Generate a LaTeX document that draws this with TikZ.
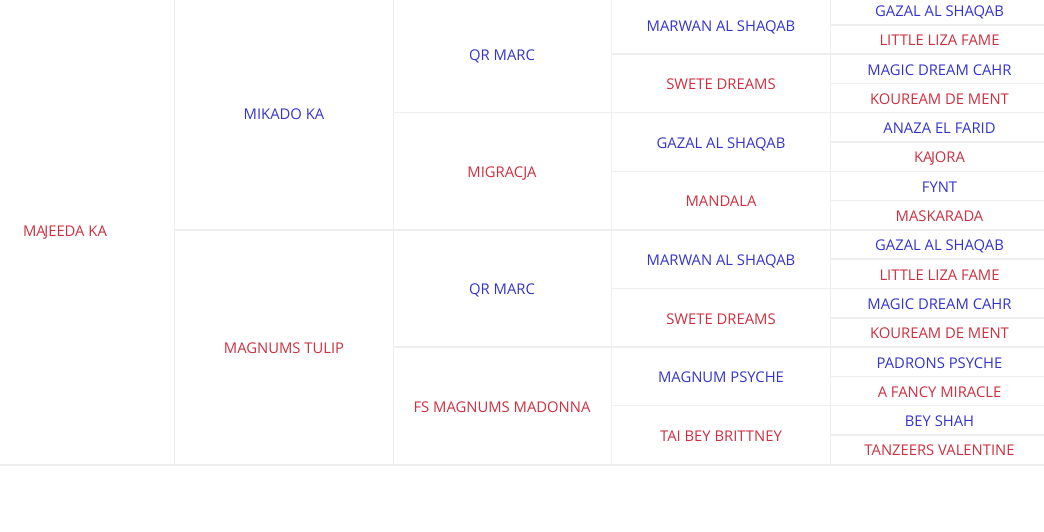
\documentclass[tikz,border=0pt]{standalone}
\usepackage{fontspec}
\setmainfont{Open Sans}
\usepackage{tikz}
\usepackage{xcolor}
\definecolor{sireblue}{HTML}{3434CC}
\definecolor{damred}{HTML}{CC3040}
\definecolor{gridgray}{HTML}{EFEFEF}

\begin{document}
\begin{tikzpicture}[x=1pt,y=-1pt,
  horse/.style={inner sep=0pt,text height=10.6pt,text depth=0pt,yshift=-1pt,font=\fontsize{14.8}{17}\selectfont},
  sire/.style={horse,text=sireblue},
  dam/.style={horse,text=damred},
  gridline/.style={gridgray,line width=1.5pt}]
\useasboundingbox (0,0) rectangle (1044,531);
% rejilla de la tabla
\foreach \x in {174.5,393,611.5,830}
  \draw[gridline,line width=1pt] (\x,-5) -- (\x,464.5);
\draw[gridline] (174.5,229.9) -- (1044,229.9);
\foreach \y in {112.7,347.1}
  \draw[gridline] (393,\y) -- (1044,\y);
\foreach \y in {54.1,171.3,288.5,405.7}
  \draw[gridline] (611.5,\y) -- (1044,\y);
\foreach \y in {24.8,83.4,142,200.6,259.2,317.8,376.4,435}
  \draw[gridline] (830,\y) -- (1044,\y);
\draw[gridline,line width=2pt] (0,464.5) -- (1044,464.5);
% generacion 1 y 2
\node[dam] (h) at (65,229.9) {MA\kern-1.5pt JEEDA KA};
\node[sire] (s) at (284,112.7) {MIKADO KA};
\node[dam] (d) at (284,347.1) {MAGNUMS TULIP};
% generacion 3
\node[sire] (ss) at (502,54.1) {QR MARC};
\node[dam] (sd) at (502,171.3) {MIGRACJA};
\node[sire] (ds) at (502,288.5) {QR MARC};
\node[dam] (dd) at (502,405.7) {FS MAGNUMS MADONNA};
% generacion 4
\node[sire] (sss) at (721,24.8) {MARWAN AL SHAQAB};
\node[dam] (ssd) at (721,83.4) {SWETE DREAMS};
\node[sire] (sds) at (721,142) {GAZAL AL SHAQAB};
\node[dam] (sdd) at (721,200.6) {MANDALA};
\node[sire] (dss) at (721,259.2) {MARWAN AL SHAQAB};
\node[dam] (dsd) at (721,317.8) {SWETE DREAMS};
\node[sire] (dds) at (721,376.4) {MAGNUM PSYCHE};
\node[dam] (ddd) at (721,435) {TAI BEY BRITTNEY};
% generacion 5
\node[sire] (ssss) at (939.5,10.15) {GAZAL AL SHAQAB};
\node[dam] (sssd) at (939.5,39.45) {LITTLE LIZA FAME};
\node[sire] (ssds) at (939.5,68.75) {MAGIC DREAM CAHR};
\node[dam] (ssdd) at (939.5,98.05) {KOUREAM DE MENT};
\node[sire] (sdss) at (939.5,127.35) {ANAZA EL FARID};
\node[dam] (sdsd) at (939.5,156.65) {KA\kern-1.5pt JORA};
\node[sire] (sdds) at (939.5,185.95) {FYNT};
\node[dam] (sddd) at (939.5,215.25) {MASKARADA};
\node[sire] (dsss) at (939.5,244.55) {GAZAL AL SHAQAB};
\node[dam] (dssd) at (939.5,273.85) {LITTLE LIZA FAME};
\node[sire] (dsds) at (939.5,303.15) {MAGIC DREAM CAHR};
\node[dam] (dsdd) at (939.5,332.45) {KOUREAM DE MENT};
\node[sire] (ddss) at (939.5,361.75) {PADRONS PSYCHE};
\node[dam] (ddsd) at (939.5,391.05) {A FANCY MIRACLE};
\node[sire] (ddds) at (939.5,420.35) {BEY SHAH};
\node[dam] (dddd) at (939.5,449.65) {TANZEERS VALENTINE};
\end{tikzpicture}
\end{document}
